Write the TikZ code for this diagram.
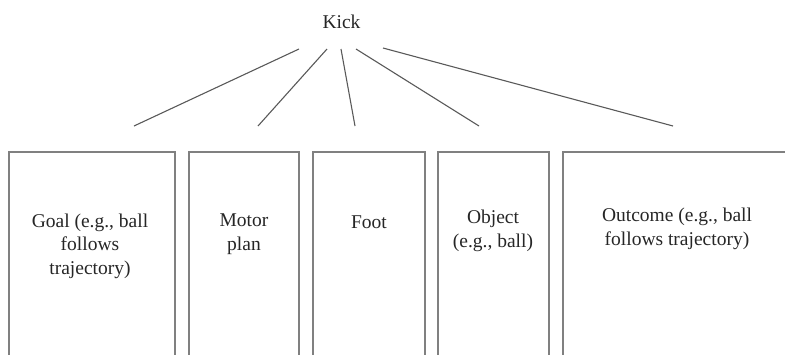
\documentclass[tikz,border=0pt]{standalone}
\usepackage{fontspec}
\setmainfont{Liberation Serif}
\begin{document}
\begin{tikzpicture}[x=1pt,y=-1pt,
  label/.style={text=black!85, font=\fontsize{19.5}{23.5}\selectfont, align=center, inner sep=0pt},
  branch/.style={draw=black!65, line width=1.1pt},
  panel/.style={draw=black!50, line width=1.4pt, fill=none}]
  \useasboundingbox (0,0) rectangle (785,354);
  \clip (0,0) rectangle (785,354);

  % root label and the points its branches spread from
  \node[label] (kick) at (341.5,22) {Kick};
  \coordinate (s1) at (299,49);
  \coordinate (s2) at (327,49);
  \coordinate (s3) at (341,49);
  \coordinate (s4) at (356,49);
  \coordinate (s5) at (383,48);
  \coordinate (e1) at (134,126);
  \coordinate (e2) at (258,126);
  \coordinate (e3) at (355,126);
  \coordinate (e4) at (479,126);
  \coordinate (e5) at (673,126);
  \foreach \i in {1,...,5} \draw[branch] (s\i) -- (e\i);

  % component panels, open past the lower edge
  \draw[panel] (9,370) |- (175,152) -- (175,370);
  \draw[panel] (189,370) |- (299,152) -- (299,370);
  \draw[panel] (313,370) |- (425,152) -- (425,370);
  \draw[panel] (438,370) |- (549,152) -- (549,370);
  \draw[panel] (563,370) |- (800,152);

  \node[label] (goal) at (90,246) {Goal (e.g., ball\\follows\\trajectory)};
  \node[label] (motor) at (244,234) {Motor\\plan};
  \node[label] (foot) at (369,222) {Foot};
  \node[label] (object) at (493,231) {Object\\(e.g., ball)};
  \node[label] (outcome) at (677,229) {Outcome (e.g., ball\\follows trajectory)};
\end{tikzpicture}
\end{document}
